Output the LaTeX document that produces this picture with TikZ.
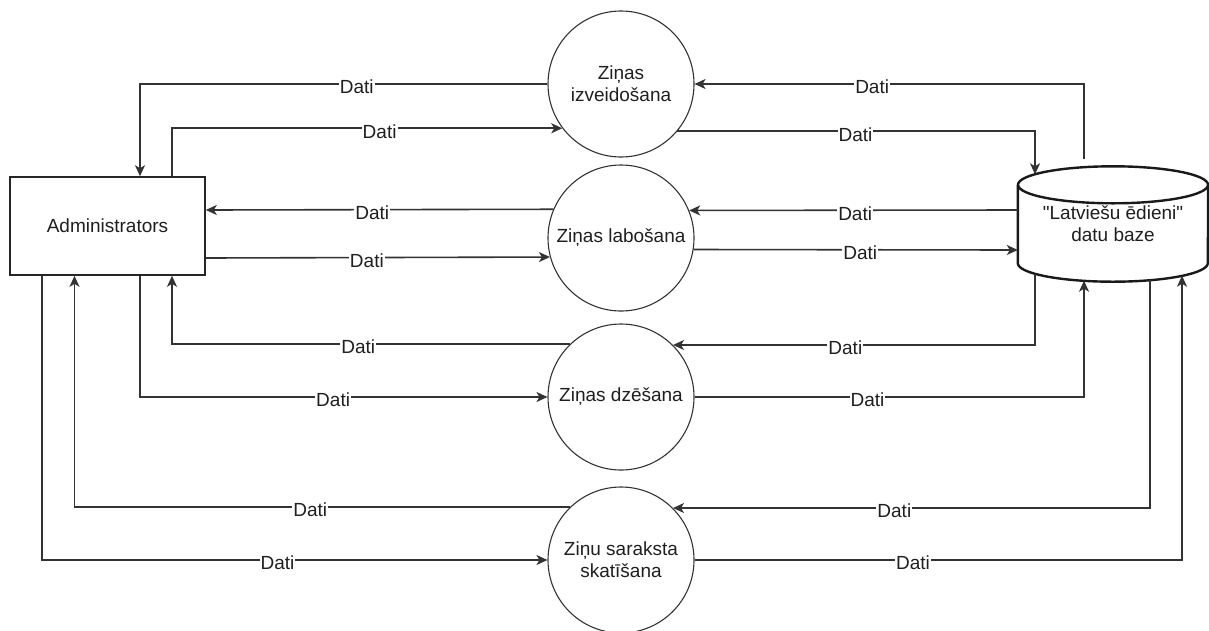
\documentclass[tikz,border=0pt]{standalone}
\usepackage{fontspec}
\setmainfont{Liberation Sans}
\newfontfamily\rawfont{Liberation Sans}
\usetikzlibrary{arrows.meta,calc}
\begin{document}
\begin{tikzpicture}[x=1pt,y=-1pt,
  every node/.style={font=\fontsize{19}{22}\selectfont, text=black!88},
  conn/.style={draw=black!80, line width=1.6pt},
  arr/.style={conn,-{Stealth[length=11pt,width=10pt,inset=3pt]}},
  lbl/.style={fill=white, inner sep=1pt, yshift=-3pt},
  proc/.style={circle, draw=black!80, line width=1.1pt, minimum size=146pt, inner sep=0pt, align=center},
  ent/.style={rectangle, draw=black!85, line width=1.6pt, minimum width=195pt, minimum height=98pt},
  cyl/.style={draw=black!90, line width=2.4pt},
]
\useasboundingbox (0,0) rectangle (1209,630);
% nodes
\node[ent] (admin) at (107.5,226) {Administrators};
\node[proc] (c1) at (621,84) {Ziņas\\izveidošana};
\node[proc] (c2) at (621,238) {Ziņas labošana};
\node[proc] (c3) at (621,397) {Ziņas dzēšana};
\node[proc] (c4) at (621,560) {Ziņu saraksta\\skatīšana};
\node[minimum width=190pt, minimum height=115pt, inner sep=0pt, align=center,
  font=\rawfont\fontsize{19}{22}\selectfont] (db) at (1113,224) {"Latviešu ēdieni"\\datu baze};
% cylinder outline
\draw[cyl] ($(db.north)+(0,18.5)$) ellipse [x radius=95, y radius=18.5];
\draw[cyl] ($(db.north west)+(0,18.5)$) -- ($(db.south west)+(0,-18.5)$)
  arc[start angle=180, end angle=0, x radius=95, y radius=18.5]
  -- ($(db.north east)+(0,18.5)$);
% ports
\coordinate (t1) at ([xshift=-29pt,yshift=7pt]db.north);
\coordinate (t2) at ([xshift=-78pt,yshift=-8pt]db.north);
\coordinate (b1) at ([xshift=-78pt,yshift=8pt]db.south);
\coordinate (b2) at ([xshift=-29pt,yshift=1pt]db.south);
\coordinate (b3) at ([xshift=37pt,yshift=1.5pt]db.south);
\coordinate (b4) at ([xshift=69pt,yshift=6pt]db.south);
\coordinate (l1) at ([yshift=14pt]db.west);
\coordinate (l2) at ([yshift=-26pt]db.west);
\coordinate (an1) at ([xshift=32.5pt]admin.north);
\coordinate (an2) at ([xshift=64.5pt]admin.north);
\coordinate (ae1) at ([yshift=16pt]admin.east);
\coordinate (ae2) at ([yshift=-32pt]admin.east);
\coordinate (as1) at ([xshift=-65.5pt]admin.south);
\coordinate (as2) at ([xshift=-33pt]admin.south);
\coordinate (as3) at ([xshift=32.5pt]admin.south);
\coordinate (as4) at ([xshift=64.5pt]admin.south);
% connectors
\draw[arr] (c1.west) -| node[lbl,pos=0.234]{Dati} (an1);
\draw[arr] (an2) |- node[lbl,pos=0.766]{Dati} (c1.217.1);
\draw[arr] (t1) |- node[lbl,pos=0.772]{Dati} (c1.east);
\draw[arr] (c1.-40.1) -| node[lbl,pos=0.249]{Dati} (t2);
\draw[arr] (l1) -- node[lbl,pos=0.495]{Dati} (c2.22.6);
\draw[arr] (c2.157.4) -- node[lbl,pos=0.521]{Dati} (ae1);
\draw[arr] (ae2) -- node[lbl,pos=0.468]{Dati} (c2.195.9);
\draw[arr] (c2.-9.46) -- node[lbl,pos=0.514]{Dati} (l2);
\draw[arr] (b1) |- node[lbl,pos=0.762]{Dati} (c3.45.4);
\draw[arr] (c3.134.6) -| node[lbl,pos=0.266]{Dati} (as4);
\draw[arr] (as3) |- node[lbl,pos=0.737]{Dati} (c3.west);
\draw[arr] (c3.east) -| node[lbl,pos=0.222]{Dati} (b2);
\draw[arr] (b3) |- node[lbl,pos=0.768]{Dati} (c4.45.4);
\draw[arr] (c4.134.6) -| node[lbl,pos=0.262]{Dati} (as2);
\draw[arr] (as1) |- node[lbl,pos=0.733]{Dati} (c4.west);
\draw[arr] (c4.east) -| node[lbl,pos=0.224]{Dati} (b4);
\end{tikzpicture}
\end{document}
